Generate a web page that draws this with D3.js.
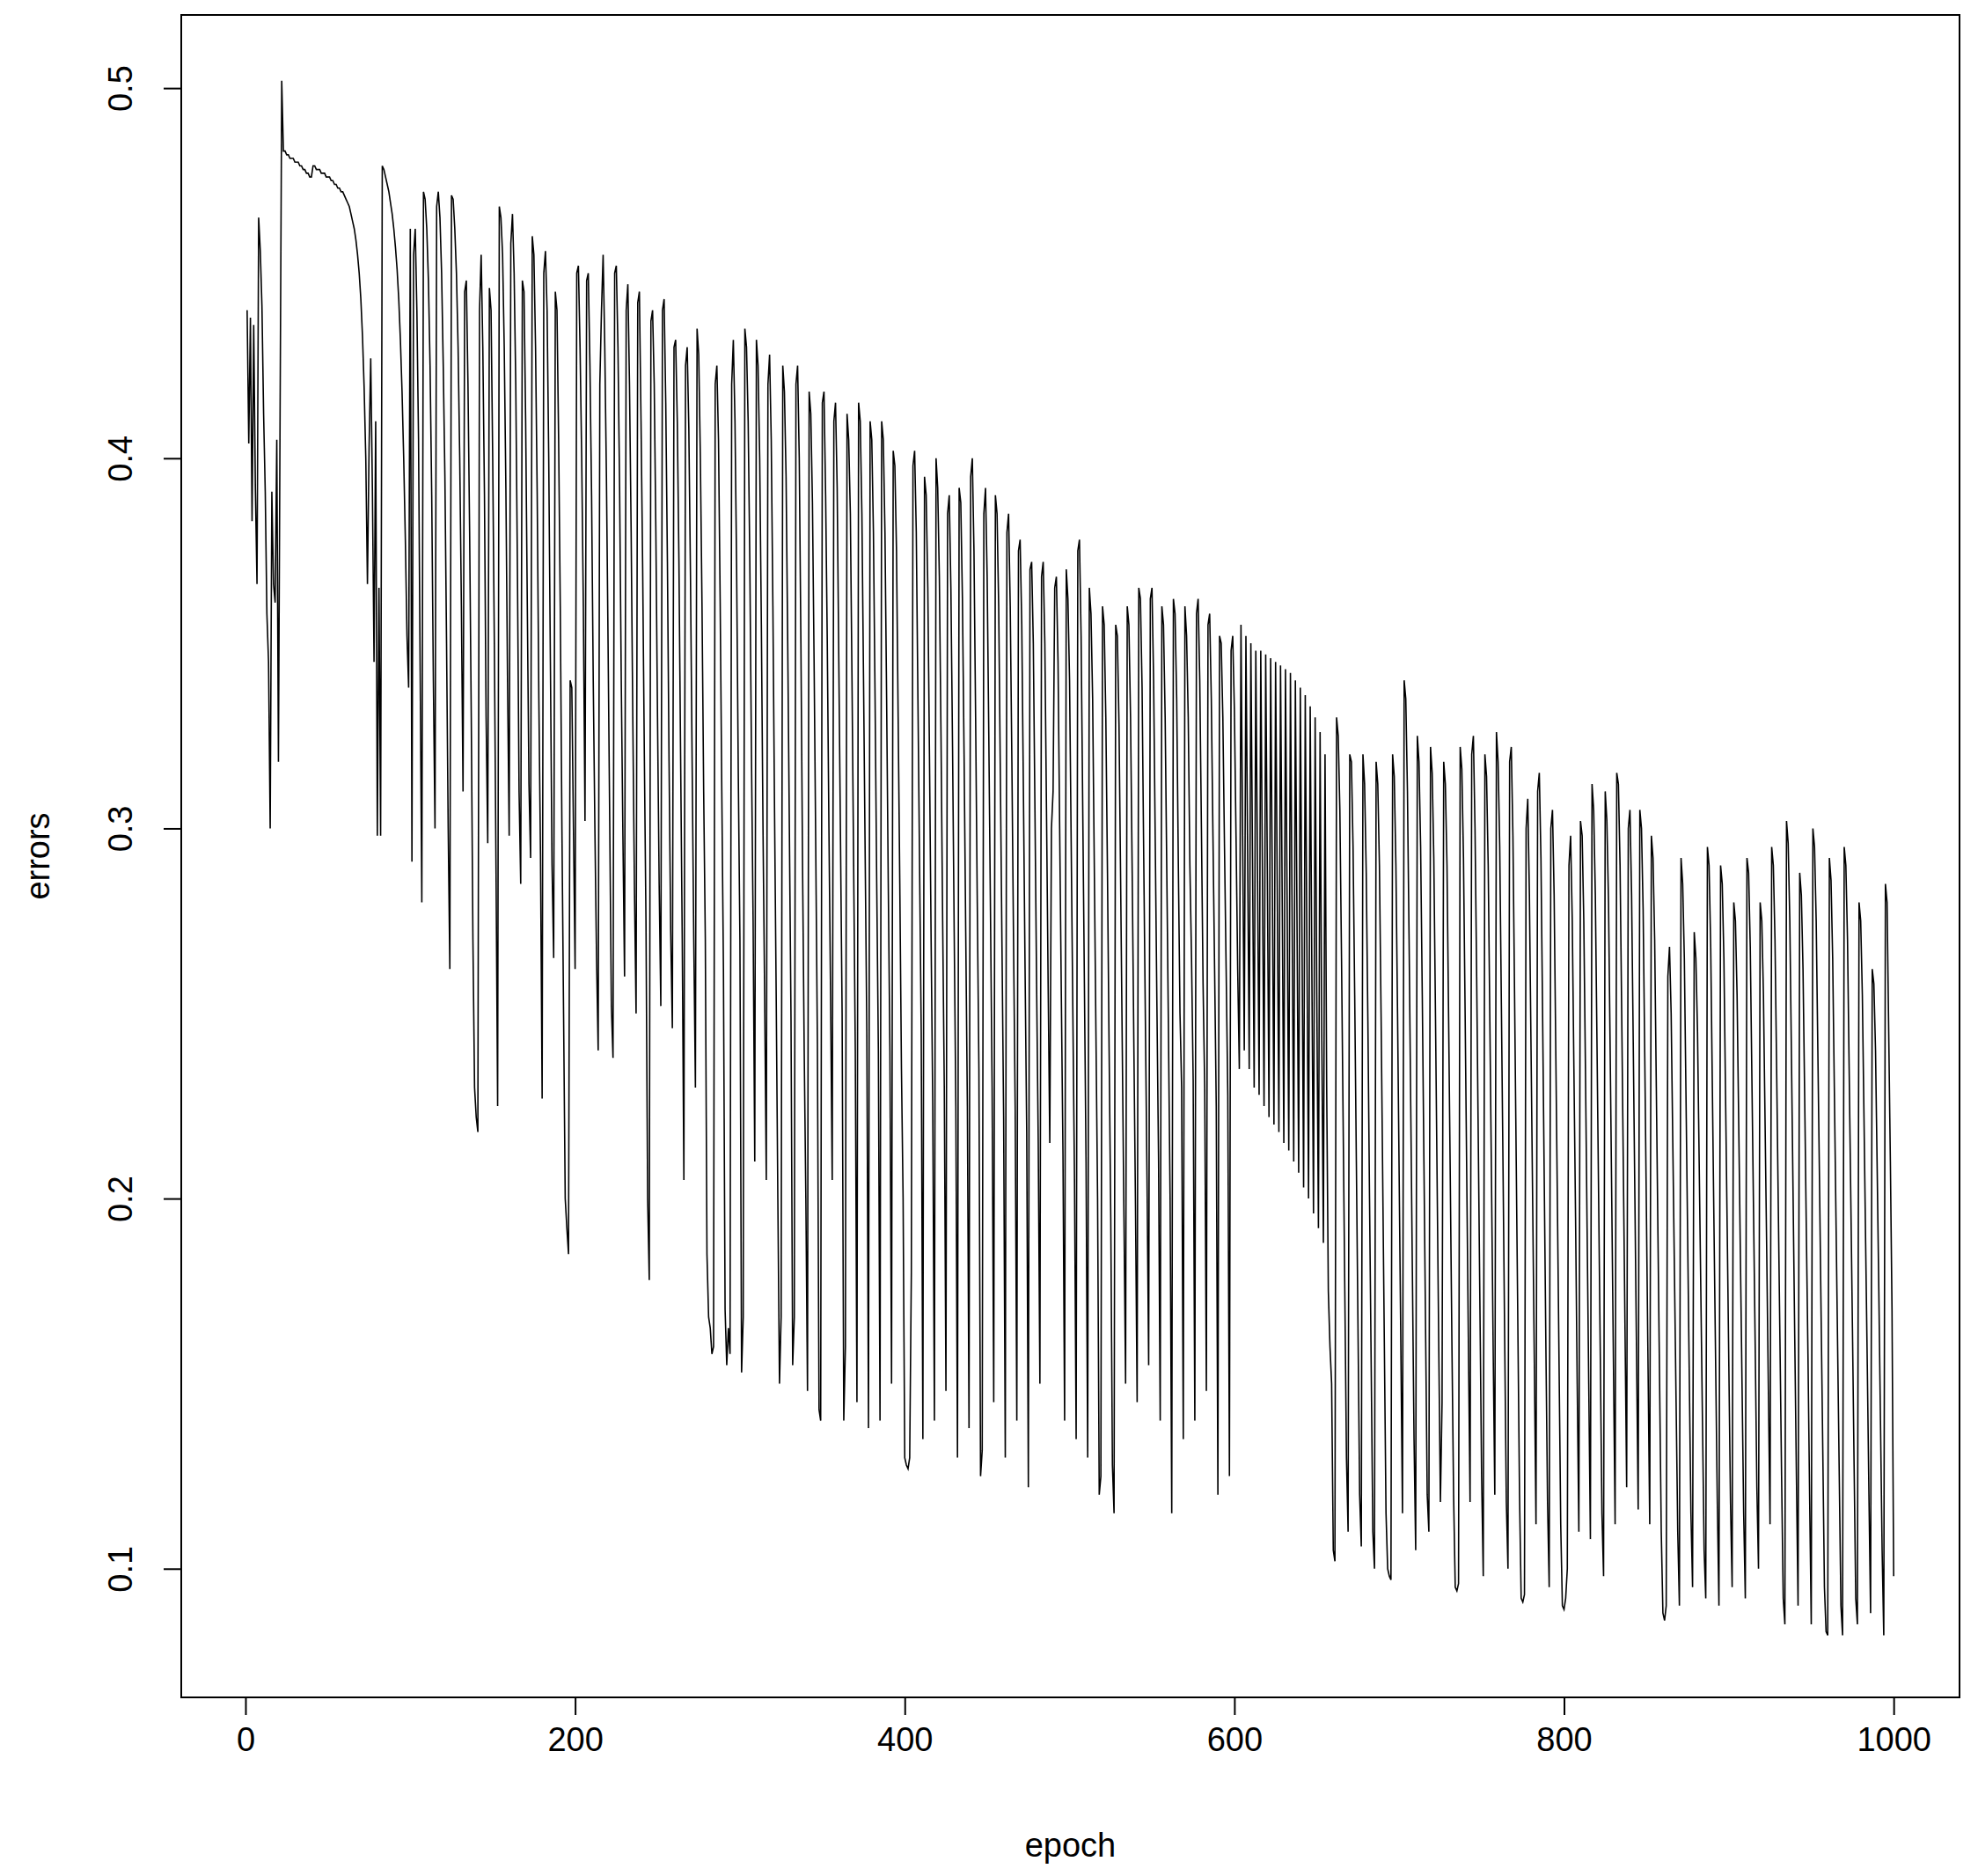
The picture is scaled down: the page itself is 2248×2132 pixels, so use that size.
<!DOCTYPE html>
<html>
<head>
<meta charset="utf-8">
<script src="https://cdn.jsdelivr.net/npm/d3@7"></script>
<style>
  body { margin: 0; background: #fff; }
  text { font-family: "Liberation Sans", Arial, sans-serif; fill: #000; }
</style>
</head>
<body>
<div class="container"></div>
<script>
let width = 2248
let height = 2132

// errors per epoch, in thousandths (epoch 1..1000)
let errorsBlock = [
  "440 404 438 383 436 392 366 465 456 441 412 391 358 345 300 391 366 361 405 318",
  "412 502 483 483 482 482 481 481 481 480 480 480 479 479 478 478 477 477 476 476",
  "479 479 478 478 478 477 477 477 476 476 476 475 475 474 474 473 473 472 472 471",
  "470 469 468 466 464 462 459 455 450 443 433 419 400 366 403 427 392 345 410 298",
  "365 298 479 478 476 474 472 469 466 462 457 451 443 432 418 400 378 352 338 462",
  "291 455 462 440 405 342 280 472 470 462 448 425 390 340 300 468 472 465 450 425",
  "395 350 300 262 471 470 462 450 430 400 360 310 445 448 420 380 330 270 230 222",
  "218 440 455 430 390 330 296 446 440 400 350 290 225 468 465 455 430 392 340 298",
  "458 466 450 420 370 310 285 448 445 410 360 312 292 460 455 430 390 335 293 227",
  "450 456 440 400 345 290 265 445 440 405 360 300 250 200 192 185 340 338 300 262",
  "450 452 430 400 360 302 448 450 425 390 340 300 265 240 420 440 455 430 395 350",
  "302 252 238 450 452 430 392 340 298 260 440 447 420 380 330 284 250 442 445 410",
  "370 320 275 200 178 437 440 420 380 330 285 252 440 443 415 372 318 272 246 430",
  "432 410 372 320 270 205 425 430 408 368 318 270 230 435 428 400 360 310 270 185",
  "168 165 158 160 420 425 405 362 310 262 170 155 165 158 420 432 410 370 315 270",
  "153 168 435 430 410 372 320 275 210 432 425 400 355 300 255 205 420 428 405 360",
  "305 255 200 150 168 425 418 395 350 300 248 155 168 420 425 400 350 290 240 200",
  "148 418 412 388 345 295 242 143 140 415 418 390 350 300 255 205 410 415 392 345",
  "298 250 140 160 412 405 385 340 290 240 145 415 410 385 340 292 245 138 410 405",
  "380 335 285 240 140 410 405 380 335 285 240 150 402 398 375 330 285 235 200 130",
  "128 127 130 180 398 402 380 335 290 245 135 395 390 365 320 270 225 140 400 392",
  "368 325 275 230 148 385 390 365 322 272 225 130 392 388 362 320 272 225 138 395",
  "400 375 330 280 235 125 132 385 392 368 325 278 230 145 390 385 360 315 268 222",
  "130 380 385 360 318 270 225 140 375 378 355 310 262 218 122 370 372 350 305 258",
  "215 150 368 372 350 305 258 215 300 310 365 368 345 300 255 212 140 370 362 340",
  "295 250 205 135 375 378 352 305 258 210 130 365 358 335 290 245 200 120 125 360",
  "355 330 288 240 195 128 115 355 352 328 285 240 195 150 360 355 330 288 242 198",
  "145 365 362 338 292 248 205 155 362 365 340 296 252 210 140 360 355 330 288 245",
  "200 115 362 358 335 290 250 230 135 360 352 330 290 265 232 140 358 362 340 300",
  "258 230 148 355 358 335 298 262 225 120 352 350 330 295 262 228 125 348 352 332",
  "298 262 235 355 298 240 352 296 235 350 292 230 348 290 228 348 289 225 347 288",
  "222 346 286 220 345 284 218 344 282 215 343 280 213 342 278 210 340 275 207 338",
  "272 203 336 268 200 333 262 196 330 255 192 326 245 188 320 230 175 160 150 105",
  "102 330 325 305 265 220 175 130 110 320 318 295 255 210 165 120 106 320 312 288",
  "248 200 155 110 100 318 312 290 250 205 160 115 100 098 097 320 314 290 250 205",
  "160 115 340 335 310 270 225 180 135 105 325 318 295 255 210 165 120 110 322 315",
  "292 250 205 160 118 145 318 312 290 248 205 160 120 095 094 096 322 316 292 250",
  "205 160 118 320 325 300 260 215 170 125 098 320 314 290 248 205 160 120 326 318",
  "295 252 208 162 118 100 318 322 298 255 210 165 120 092 091 093 300 308 282 240",
  "198 155 112 310 315 292 250 205 160 118 095 300 305 282 240 198 155 112 090 089",
  "092 100 290 298 275 235 195 150 110 302 298 275 235 192 150 108 312 305 282 242",
  "200 158 115 098 310 302 280 240 198 155 112 315 312 290 250 208 165 122 300 305",
  "282 242 200 158 116 305 300 278 238 196 154 112 298 292 270 230 190 150 110 088",
  "086 090 260 268 250 215 180 145 110 090 292 285 265 228 190 152 115 095 272 265",
  "245 210 175 140 105 092 295 290 268 230 192 155 118 090 290 285 265 228 192 155",
  "118 095 280 275 255 220 185 150 115 092 292 288 268 232 196 160 122 100 280 275",
  "255 220 185 148 112 295 290 270 235 198 162 125 092 085 302 296 275 238 200 162",
  "125 090 288 282 262 228 192 158 120 085 300 295 275 240 205 168 132 095 083 082",
  "292 286 265 230 195 160 125 090 082 295 290 270 235 200 165 128 092 085 280 275",
  "255 222 188 155 120 088 262 258 240 208 175 140 105 082 285 280 245 210 170 098"
]
let xTicks = [0, 200, 400, 600, 800, 1000]
let yTicks = [0.1, 0.2, 0.3, 0.4, 0.5]

let errors = errorsBlock.join(" ").split(" ").map(function (s) { return +s / 1000 })
let data = errors.map(function (e, i) { return { epoch: i + 1, err: e } })

let plotLeft = 206, plotRight = 2227, plotTop = 17, plotBottom = 1929

let x = d3.scaleLinear().domain([-38.96, 1039.96]).range([plotLeft, plotRight])
let y = d3.scaleLinear().domain([0.06524, 0.51976]).range([plotBottom, plotTop])

let svg = d3.select(".container")
  .append("svg")
  .attr("width", width)
  .attr("height", height)

svg.append("path")
  .datum(data)
  .attr("fill", "none")
  .attr("stroke", "#000")
  .attr("stroke-width", 1.6)
  .attr("d", d3.line()
    .x(function (d) { return x(d.epoch) })
    .y(function (d) { return y(d.err) }))

svg.append("rect")
  .attr("x", plotLeft).attr("y", plotTop)
  .attr("width", plotRight - plotLeft).attr("height", plotBottom - plotTop)
  .attr("fill", "none").attr("stroke", "#000").attr("stroke-width", 2)

let xAxis = svg.append("g")
  .attr("transform", `translate(0,${plotBottom})`)
  .call(d3.axisBottom(x).tickValues(xTicks).tickSize(20).tickPadding(14).tickFormat(d3.format("d")))
let yAxis = svg.append("g")
  .attr("transform", `translate(${plotLeft},0)`)
  .call(d3.axisLeft(y).tickValues(yTicks).tickSize(20).tickPadding(22).tickFormat(d3.format(".1f")))

;[xAxis, yAxis].forEach(function (g) {
  g.select(".domain").remove()
  g.selectAll("line").attr("stroke", "#000").attr("stroke-width", 2)
  g.selectAll("text").attr("font-size", "38px").attr("font-family", "Liberation Sans, Arial, sans-serif").attr("fill", "#000")
})

// rotated y tick labels like R
yAxis.selectAll(".tick text")
  .attr("text-anchor", "middle")
  .attr("x", 0).attr("dy", 0)
  .attr("transform", "translate(-56,0) rotate(-90)")

svg.append("text")
  .attr("x", (plotLeft + plotRight) / 2).attr("y", 2110)
  .attr("text-anchor", "middle")
  .attr("font-size", "38px")
  .text("epoch")

svg.append("text")
  .attr("transform", `translate(56,${(plotTop + plotBottom) / 2}) rotate(-90)`)
  .attr("text-anchor", "middle")
  .attr("font-size", "38px")
  .text("errors")
</script>
</body>
</html>
